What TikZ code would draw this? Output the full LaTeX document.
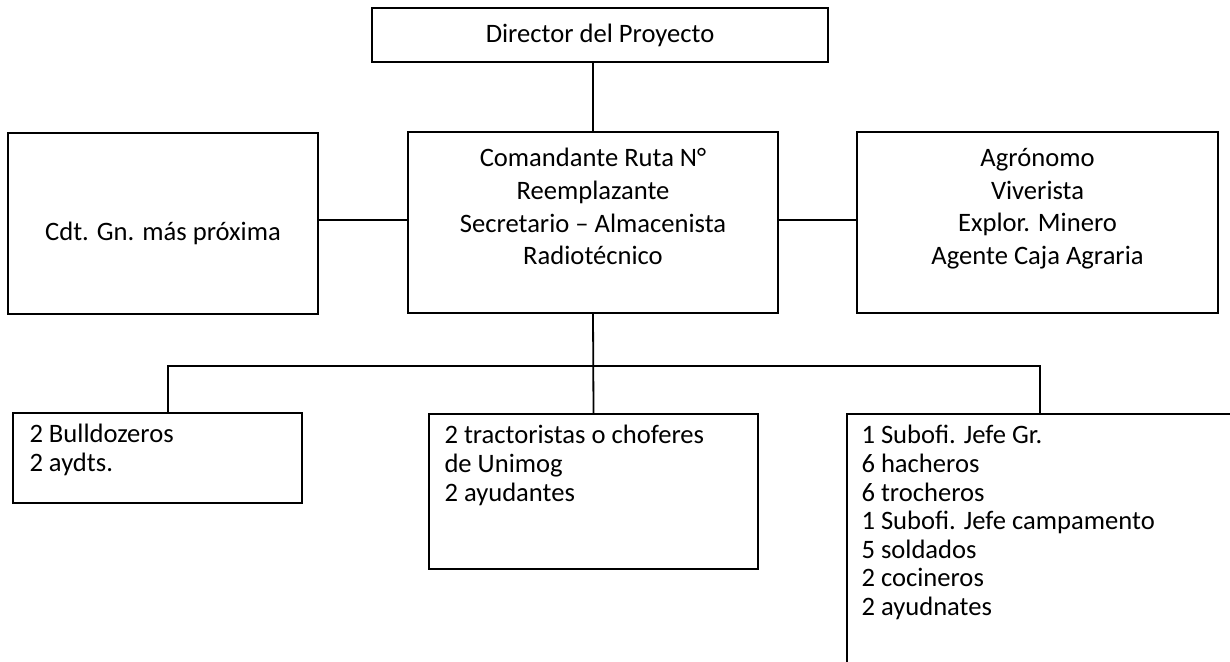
\documentclass[tikz,border=0pt]{standalone}
\usepackage{fontspec}
\setmainfont{Carlito}
\usetikzlibrary{positioning}
\tikzstyle{box} = [draw, rectangle, line width=0.9pt, inner sep=0pt]
\tikzstyle{txt} = [align=center, inner sep=0pt]
\tikzstyle{list} = [align=left, inner sep=0pt, font=\fontsize{13.3}{14.3}\selectfont]
\tikzstyle{link} = [line width=0.9pt]

\begin{document}
\begin{tikzpicture}[x=0.5pt, y=-0.5pt, font=\fontsize{13.3}{16.3}\selectfont]
	\useasboundingbox (0,0) rectangle (1230,662);
	% upper level
	\node (dir) [box, minimum width=228pt, minimum height=27pt] at (600,35) {Director del Proyecto};
	\node (cmd) [box, minimum width=185pt, minimum height=90.5pt] at (593,222.5) {};
	\node (cmdt) [txt, below=8.5pt of cmd.north] {Comandante Ruta N°\\Reemplazante\\Secretario -- Almacenista\\Radiotécnico};
	\node (cdt) [box, minimum width=155pt, minimum height=90.5pt] at (163,223.5) {};
	\node (cdtt) [txt] at ([yshift=-4.75pt]cdt.center) {Cdt. Gn. más próxima};
	\node (agr) [box, minimum width=180.5pt, minimum height=90.5pt] at (1037.5,222.5) {};
	\node (agrt) [txt, below=8.5pt of agr.north] {Agrónomo\\Viverista\\Explor. Minero\\Agente Caja Agraria};
	% lower level
	\node (bull) [box, minimum width=144.5pt, minimum height=45pt] at (157.5,458) {};
	\node (bullt) [list, below right=6pt and 8.5pt of bull.north west] {2 Bulldozeros\\2 aydts.};
	\node (tract) [box, minimum width=164.5pt, minimum height=77.5pt] at (593.5,491.5) {};
	\node (tractt) [list, below right=6pt and 8pt of tract.north west] {2 tractoristas o choferes\\de Unimog\\2 ayudantes};
	\node (sub) [box, minimum width=201.5pt, minimum height=138pt] at (1048.5,552) {};
	\node (subt) [list, below right=6pt and 7.5pt of sub.north west] {1 Subofi. Jefe Gr.\\6 hacheros\\6 trocheros\\1 Subofi. Jefe campamento\\5 soldados\\2 cocineros\\2 ayudnates};
	% connectors
	\coordinate (midy) at (0,220);
	\coordinate (busl) at (168,366);
	\coordinate (busr) at (1040,366);
	\draw [link] (cmd.north) -- (cmd.north |- dir.south);
	\draw [link] (cdt.east |- midy) -- (cmd.west |- midy);
	\draw [link] (cmd.east |- midy) -- (agr.west |- midy);
	\draw [link] (cmd.south) -- (tract.north);
	\draw [link] (busl |- bull.north) -- (busl) -- (busr) -- (busr |- sub.north);
\end{tikzpicture}
\end{document}
